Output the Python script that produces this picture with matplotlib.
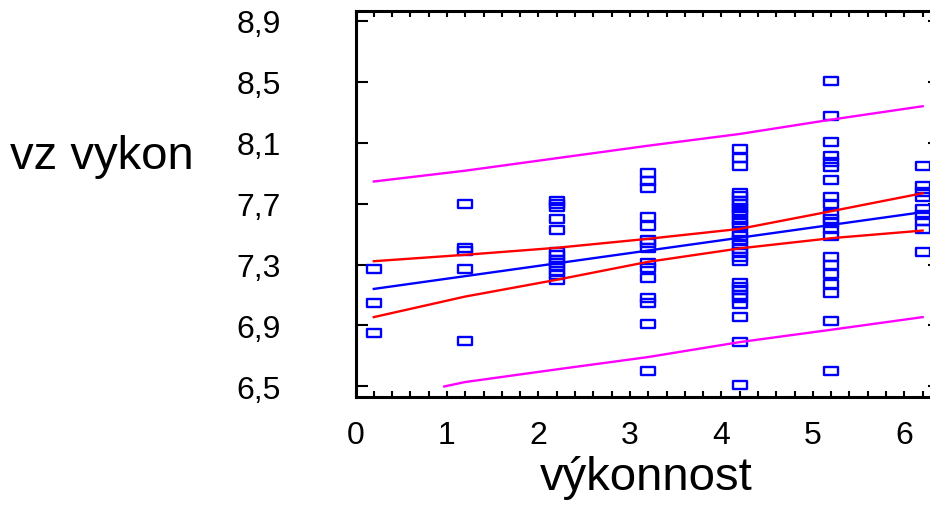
import numpy as np
import matplotlib
matplotlib.use("Agg")
import matplotlib.pyplot as plt
from matplotlib.path import Path
from matplotlib.ticker import FixedLocator, MultipleLocator

# ---- data ----
x_cols = [0.2, 1.2, 2.2, 3.2, 4.2, 5.2, 6.2]
col0 = [7.27, 7.05, 6.85]
col1 = [7.70, 7.41, 7.39, 7.27, 6.80]
col2 = [7.72, 7.70, 7.68, 7.60, 7.53, 7.38, 7.36, 7.33, 7.31, 7.29, 7.26, 7.23, 7.20]
col3 = [7.90, 7.85, 7.80, 7.61, 7.55, 7.46, 7.44, 7.41, 7.31, 7.28, 7.21, 7.08, 7.05, 6.91, 6.60]
col4 = [8.06, 8.00, 7.95, 7.77, 7.75, 7.72, 7.70, 7.67, 7.65, 7.63, 7.59, 7.57, 7.55,
        7.51, 7.49, 7.46, 7.43, 7.40, 7.38, 7.35, 7.32, 7.18, 7.15, 7.13, 7.10, 7.08,
        7.04, 6.955, 6.79, 6.51]
col5 = [8.505, 8.275, 8.107, 8.013, 7.974, 7.941, 7.857, 7.744, 7.698, 7.632, 7.600,
        7.573, 7.534, 7.488, 7.352, 7.296, 7.239, 7.173, 7.116, 6.931, 6.603]
col6 = [7.949, 7.816, 7.777, 7.744, 7.665, 7.626, 7.587, 7.534, 7.381]
columns = [col0, col1, col2, col3, col4, col5, col6]

line_x = [0.2, 1.2, 2.2, 3.2, 4.2, 5.2, 6.2]
fit_y = [7.140, 7.224, 7.308, 7.392, 7.476, 7.560, 7.644]
conf_upper = [7.322, 7.364, 7.410, 7.469, 7.534, 7.650, 7.768]
conf_lower = [6.955, 7.090, 7.200, 7.318, 7.406, 7.473, 7.523]
pred_upper = [7.845, 7.916, 7.998, 8.080, 8.157, 8.251, 8.339]
pred_lower_x = [0.97, 1.2, 2.2, 3.2, 4.2, 5.2, 6.2]
pred_lower = [6.500, 6.529, 6.612, 6.693, 6.791, 6.872, 6.955]

y_ticks = [6.5, 6.9, 7.3, 7.7, 8.1, 8.5, 8.9]
y_ticklabels = ["6,5", "6,9", "7,3", "7,7", "8,1", "8,5", "8,9"]
x_ticks = [0, 1, 2, 3, 4, 5, 6]
x_ticklabels = ["0", "1", "2", "3", "4", "5", "6"]
x_label = "výkonnost"
y_label = "vz vykon"

# ---- figure ----
plt.rcParams['font.family'] = ['Liberation Sans', 'DejaVu Sans']
W, H = 930, 506
fig = plt.figure(figsize=(W / 100, H / 100), dpi=100)
left_px, right_px, top_px, bottom_px = 355.5, 940.0, 12.0, 397.5
ax = fig.add_axes([left_px / W, 1 - bottom_px / H, (right_px - left_px) / W,
                   (bottom_px - top_px) / H])
ax.set_xlim(0, 6.39)
ax.set_ylim(6.434, 8.964)

rect = Path([(-1, -0.57), (1, -0.57), (1, 0.57), (-1, 0.57), (-1, -0.57)],
            [Path.MOVETO, Path.LINETO, Path.LINETO, Path.LINETO, Path.CLOSEPOLY])
for xc, vals in zip(x_cols, columns):
    ax.plot([xc] * len(vals), vals, linestyle='none', marker=rect, markersize=10.5,
            markerfacecolor='none', markeredgecolor='#0000ff', markeredgewidth=1.7,
            zorder=2, clip_on=False)

lw = 1.7
ax.plot(line_x, pred_upper, color='#ff00ff', lw=lw, zorder=3)
ax.plot(pred_lower_x, pred_lower, color='#ff00ff', lw=lw, zorder=3)
ax.plot(line_x, conf_upper, color='#ff0000', lw=lw, zorder=3)
ax.plot(line_x, conf_lower, color='#ff0000', lw=lw, zorder=3)
ax.plot(line_x, fit_y, color='#0000ff', lw=lw, zorder=3)

for s in ax.spines.values():
    s.set_linewidth(2.2)
    s.set_color('black')

ax.yaxis.set_major_locator(FixedLocator(y_ticks))
ax.set_yticklabels(y_ticklabels)
ax.xaxis.set_major_locator(FixedLocator(x_ticks))
ax.set_xticklabels(x_ticklabels)
ax.xaxis.set_minor_locator(MultipleLocator(0.2))

ax.tick_params(axis='y', which='major', direction='in', length=8.6, width=1.5,
               left=True, right=True, labelsize=23, pad=54)
ax.tick_params(axis='x', which='both', direction='in', length=4.3, width=1.5,
               bottom=True, top=True, labelsize=23, pad=17)

fig.text(102 / W, 1 - 157 / H, y_label, fontsize=34, ha='center', va='center')
fig.text(646 / W, 1 - 478 / H, x_label, fontsize=34, ha='center', va='center')

fig.savefig("out.png", dpi=100)
